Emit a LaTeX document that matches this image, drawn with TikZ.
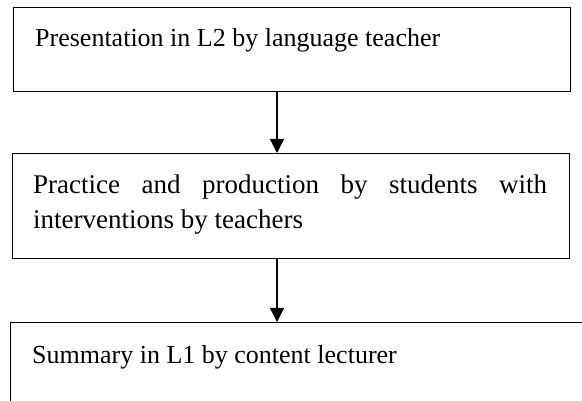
\documentclass[tikz,border=0pt]{standalone}
\usepackage{fontspec}
\setmainfont{Liberation Serif}
\usetikzlibrary{arrows.meta}
\begin{document}
\begin{tikzpicture}[x=1pt,y=-1pt,
  box/.style={draw, line width=1.3pt, rectangle, inner sep=0pt, anchor=north west},
  txt/.style={font=\fontsize{26}{35}\selectfont, inner sep=0pt, anchor=base west},
  arr/.style={-{Triangle[width=14pt,length=14pt]}, line width=1.3pt}]
\clip (0,0) rectangle (582,401);
\node[box, minimum width=557pt, minimum height=84pt] (b1) at (13,7) {};
\node[txt] (t1) at (35,47) {Presentation in L2 by language teacher};
\node[box, minimum width=557pt, minimum height=105pt] (b2) at (12,153) {};
\node[txt, font=\fontsize{27}{35}\selectfont, text width=514pt, align=justify, anchor=north west] (t2) at (33,174.5) {Practice and production by students with \mbox{interventions} by teachers};
\node[box, minimum width=620pt, minimum height=150pt] (b3) at (10,322) {};
\node[txt] (t3) at (32,363) {Summary in L1 by content lecturer};
\coordinate (ax) at (277,0);
\draw[arr] (b1.south -| ax) -- (b2.north -| ax);
\draw[arr] (b2.south -| ax) -- (b3.north -| ax);
\end{tikzpicture}
\end{document}
